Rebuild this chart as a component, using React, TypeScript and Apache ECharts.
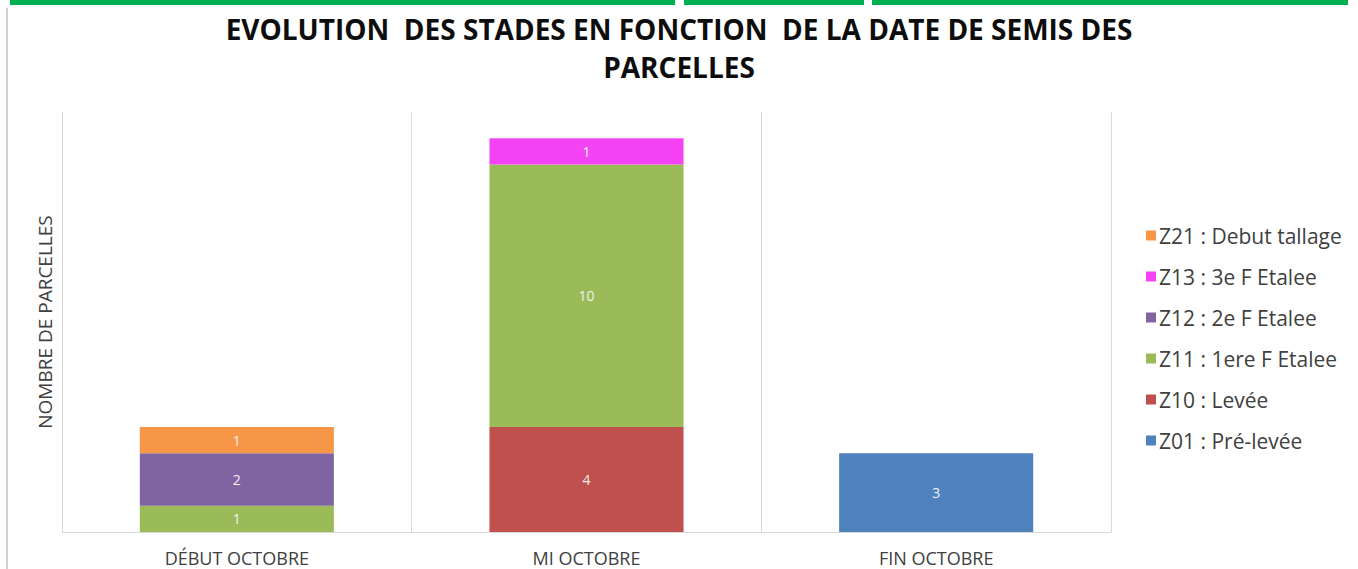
import React, { useEffect, useRef } from "react";
import * as echarts from "echarts";

const categories = ["DÉBUT OCTOBRE", "MI OCTOBRE", "FIN OCTOBRE"];
const seriesNames = [
  "Z01 : Pré-levée",
  "Z10 : Levée",
  "Z11 : 1ere F Etalee",
  "Z12 : 2e F Etalee",
  "Z13 : 3e F Etalee",
  "Z21 : Debut tallage",
];
const z01 = [null, null, 3];
const z10 = [null, 4, null];
const z11 = [1, 10, null];
const z12 = [2, null, null];
const z13 = [null, 1, null];
const z21 = [1, null, null];
const seriesValues = [z01, z10, z11, z12, z13, z21];
const colors = ["#4F81BD", "#C0504D", "#9BBB59", "#8064A2", "#F443F4", "#F79646"];
const titleLines = ["EVOLUTION  DES STADES EN FONCTION  DE LA DATE DE SEMIS DES", "PARCELLES"];
const yAxisName = "NOMBRE DE PARCELLES";

export default function App() {
  const ref = useRef<HTMLDivElement>(null);
  useEffect(() => {
    const chart = echarts.init(ref.current!, null, { renderer: "svg" });
    const font = "'Open Sans', 'DejaVu Sans', sans-serif";
    chart.setOption({
      animation: false,
      backgroundColor: "#ffffff",
      textStyle: { fontFamily: font },
      title: {
        text: titleLines.join("\n"),
        left: "center",
        top: 10,
        padding: 0,
        textStyle: {
          fontFamily: font,
          fontWeight: "bold",
          fontSize: 28,
          lineHeight: 38,
          color: "#0d0d0d",
        },
      },
      legend: {
        orient: "vertical",
        left: 1141,
        top: 220,
        itemWidth: 10,
        itemHeight: 10,
        itemGap: 20,
        icon: "rect",
        data: seriesNames.slice().reverse(),
        textStyle: { fontFamily: font, fontSize: 21, color: "#404040", padding: [0, 0, 0, -2] },
      },
      grid: { left: 62, right: 247, top: 112, bottom: 37, containLabel: false },
      xAxis: {
        type: "category",
        data: categories,
        axisLine: { show: true, lineStyle: { color: "#d9d9d9", width: 1 } },
        axisTick: { show: false },
        splitLine: { show: true, lineStyle: { color: "#d9d9d9", width: 1 } },
        axisLabel: { fontFamily: font, fontSize: 18, color: "#404040", margin: 17 },
      },
      yAxis: {
        type: "value",
        min: 0,
        max: 16,
        interval: 2,
        name: yAxisName,
        nameLocation: "middle",
        nameGap: 8,
        nameTextStyle: { fontFamily: font, fontSize: 19, color: "#404040" },
        axisLine: { show: false },
        axisTick: { show: false },
        axisLabel: { show: false },
        splitLine: { show: false },
      },
      series: seriesNames.map((name, i) => ({
        name,
        type: "bar",
        stack: "total",
        barWidth: "55.5%",
        data: seriesValues[i],
        itemStyle: { color: colors[i] },
        label: {
          show: true,
          position: "inside",
          color: "#f2f2f2",
          fontFamily: font,
          fontSize: 14,
        },
      })),
      graphic: [
        { type: "rect", shape: { x: 10, y: 0, width: 665, height: 5 }, style: { fill: "#00B050" } },
        { type: "rect", shape: { x: 684, y: 0, width: 180, height: 5 }, style: { fill: "#00B050" } },
        { type: "rect", shape: { x: 872, y: 0, width: 476, height: 5 }, style: { fill: "#00B050" } },
        { type: "line", shape: { x1: 7, y1: 8, x2: 7, y2: 569 }, style: { stroke: "#d0d0d0", lineWidth: 2 } },
      ],
    });
    return () => chart.dispose();
  }, []);
  return (
    <div
      ref={ref}
      style={{ position: "fixed", left: 0, top: 0, width: 1358, height: 569 }}
    />
  );
}
